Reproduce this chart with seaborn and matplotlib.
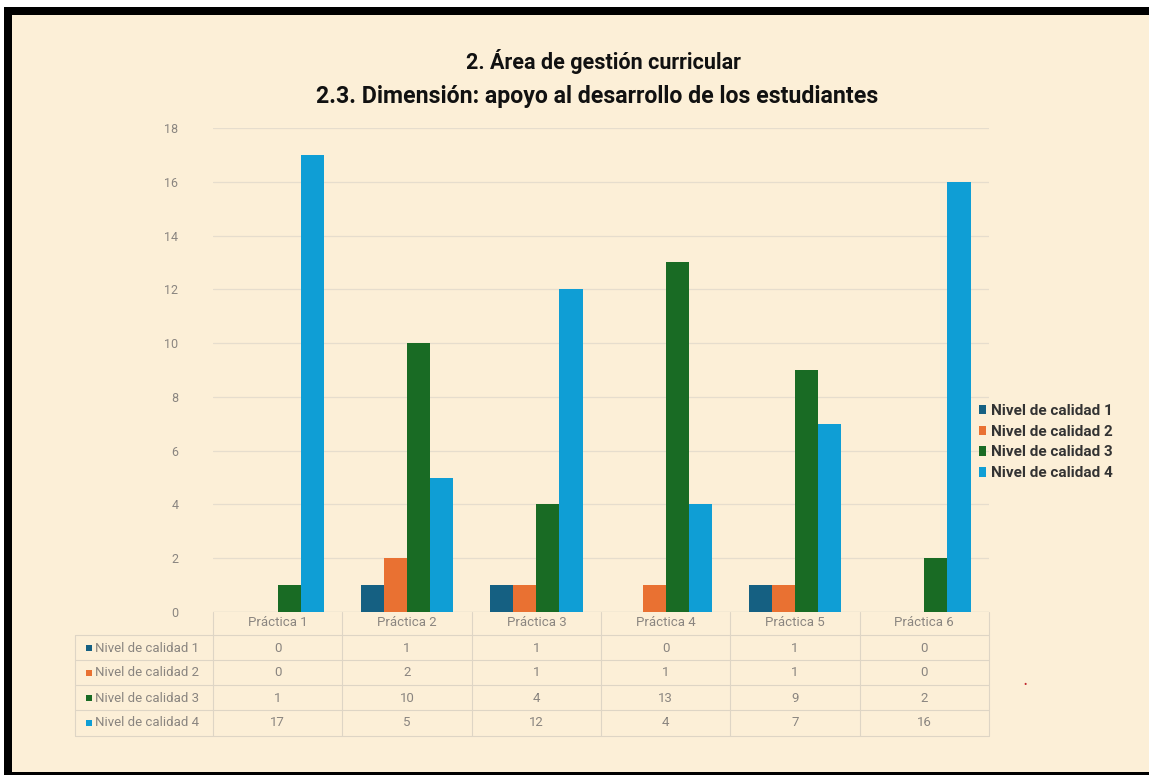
import matplotlib
matplotlib.use("Agg")
import matplotlib.pyplot as plt
import matplotlib.transforms as mtransforms
from matplotlib.patches import Rectangle
import seaborn as sns
import pandas as pd

# --- data ---
practicas = ["Práctica 1", "Práctica 2", "Práctica 3", "Práctica 4", "Práctica 5", "Práctica 6"]
niveles = ["Nivel de calidad 1", "Nivel de calidad 2", "Nivel de calidad 3", "Nivel de calidad 4"]
nivel_1 = [0, 1, 1, 0, 1, 0]
nivel_2 = [0, 2, 1, 1, 1, 0]
nivel_3 = [1, 10, 4, 13, 9, 2]
nivel_4 = [17, 5, 12, 4, 7, 16]
series = [nivel_1, nivel_2, nivel_3, nivel_4]
colores = ["#156082", "#E97132", "#196B24", "#0F9ED5"]
titulo_1 = "2. Área de gestión curricular"
titulo_2 = "2.3. Dimensión: apoyo al desarrollo de los estudiantes"

df = pd.DataFrame(
    [(p, n, v) for n, vals in zip(niveles, series) for p, v in zip(practicas, vals)],
    columns=["practica", "nivel", "valor"],
)

sns.set_theme(style="white")
plt.rcParams["font.family"] = ["Roboto", "DejaVu Sans"]

PAPER = "#FCEFD7"
TXT = "#8A8580"
W, H = 1149, 775
fig = plt.figure(figsize=(W / 100, H / 100), dpi=100, facecolor="white")

# frame: black band on top/left/bottom, parchment inside
fig.patches.append(Rectangle((4 / W, 0), 1, 1 - 7 / H, transform=fig.transFigure,
                             facecolor="black", edgecolor="none", zorder=-3))
fig.patches.append(Rectangle((12 / W, 3 / H), 1, 1 - 15 / H - 3 / H, transform=fig.transFigure,
                             facecolor=PAPER, edgecolor="none", zorder=-2))

AX_L, AX_R, AX_T, AX_B = 213, 989, 128, 612
ax = fig.add_axes([AX_L / W, 1 - AX_B / H, (AX_R - AX_L) / W, (AX_B - AX_T) / H])
ax.set_facecolor("none")

sns.barplot(data=df, x="practica", y="valor", hue="nivel", order=practicas,
            hue_order=niveles, palette=colores, width=0.715, saturation=1,
            edgecolor="none", linewidth=0, ax=ax)

ax.set_ylim(0, 18)
ax.set_xlim(-0.5, len(practicas) - 0.5)
ax.set_yticks(range(0, 19, 2))
ax.yaxis.grid(True, color="#E6DDCD", linewidth=0.9)
ax.set_axisbelow(True)
for s in ax.spines.values():
    s.set_visible(False)
ax.axhline(0, color="#D9D0C0", linewidth=0.9, zorder=0.5)
ax.set_xlabel("")
ax.set_ylabel("")
ax.tick_params(axis="y", length=0, pad=25, labelsize=9, labelcolor=TXT)
ax.tick_params(axis="x", length=0, pad=3, labelsize=9.5, labelcolor=TXT)

# legend on the right
handles, labels = ax.get_legend_handles_labels()
ax.get_legend().remove()
leg = fig.legend(handles, labels, loc="center left", bbox_to_anchor=(965 / W, 1 - 442 / H),
                 frameon=False, handlelength=0.5, handleheight=0.55, handletextpad=0.3,
                 labelspacing=0.45, prop={"size": 11, "weight": "bold"})
for t in leg.get_texts():
    t.set_color("#333333")

# data table under the axis
trans_x_data = mtransforms.blended_transform_factory(ax.transData, ax.transAxes)
ah = AX_B - AX_T
aw = AX_R - AX_L
def yfrac(py):
    return (AX_B - py) / ah
def xfrac(px):
    return (px - AX_L) / aw

row_centres = [648, 673, 698, 723]
row_lines = [635, 660, 685, 710, 736]
grid_col = "#DED5C5"
for py in row_lines:
    ax.plot([xfrac(75), 1], [yfrac(py)] * 2, transform=ax.transAxes, color=grid_col,
            linewidth=0.8, clip_on=False)
for i in range(len(practicas) + 1):
    xb = i - 0.5
    ax.plot([xb, xb], [yfrac(AX_B), yfrac(736)], transform=trans_x_data, color=grid_col,
            linewidth=0.8, clip_on=False)
ax.plot([xfrac(75)] * 2, [yfrac(635), yfrac(736)], transform=ax.transAxes,
        color=grid_col, linewidth=0.8, clip_on=False)

for nivel, vals, col, py in zip(niveles, series, colores, row_centres):
    ax.add_patch(Rectangle((xfrac(86), yfrac(py) - 3 / ah), 6 / aw, 6 / ah,
                           transform=ax.transAxes, facecolor=col, edgecolor="none",
                           clip_on=False))
    ax.text(xfrac(95), yfrac(py), nivel, transform=ax.transAxes, ha="left",
            va="center", fontsize=9.5, color=TXT)
    for i, v in enumerate(vals):
        ax.text(i, yfrac(py), str(v), transform=trans_x_data, ha="center", va="center",
                fontsize=9.5, color=TXT)

# titles
fig.text(603 / W, 1 - 62 / H, titulo_1, ha="center", va="center", fontsize=15.5,
         fontweight="bold", color="#111111")
fig.text(597 / W, 1 - 97 / H, titulo_2, ha="center", va="center", fontsize=16.7,
         fontweight="bold", color="#111111")

# small red dot at the right of the table
fig.text(1025 / W, 1 - 685 / H, "•", ha="center", va="center", fontsize=7, color="#C0262D")

fig.savefig("out.png", dpi=100, facecolor="white")
